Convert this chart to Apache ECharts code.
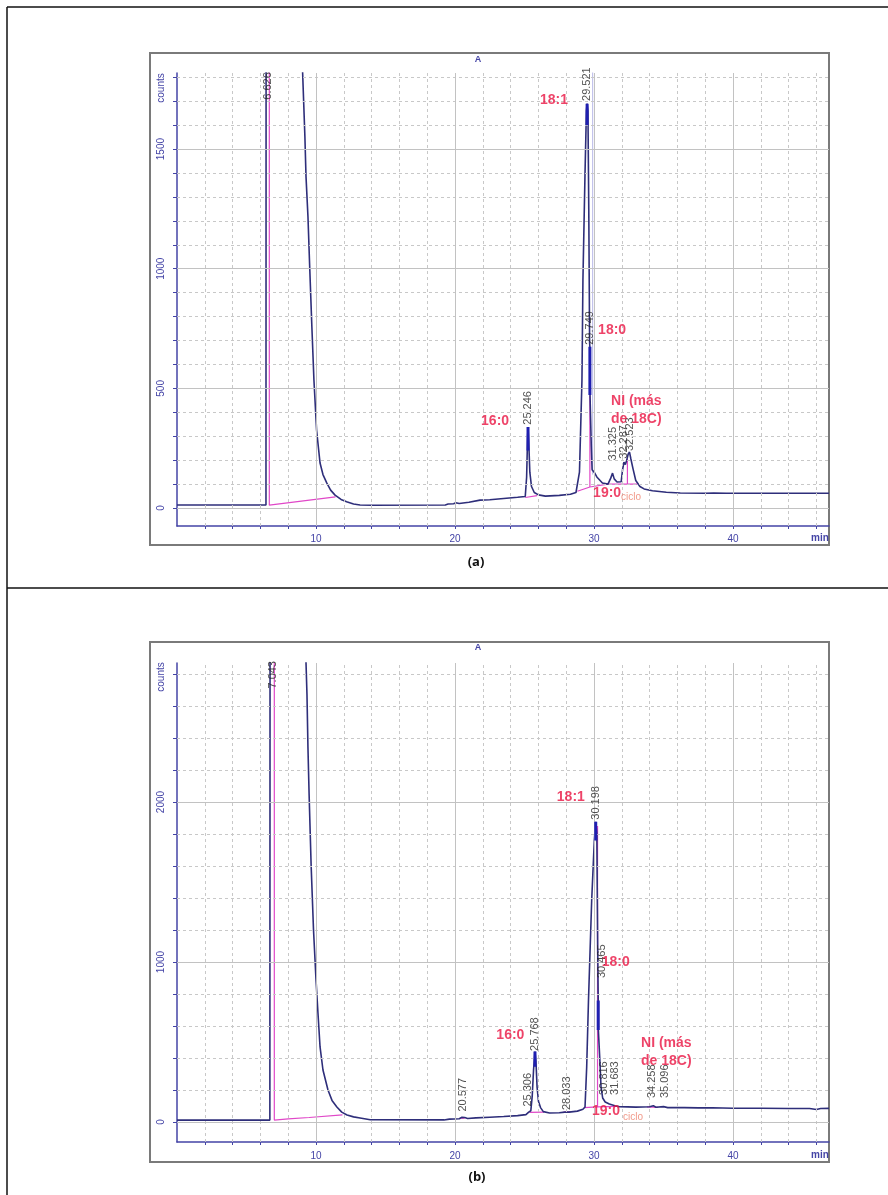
<!DOCTYPE html>
<html>
<head>
<meta charset="utf-8">
<script src="https://cdn.jsdelivr.net/npm/echarts@6/dist/echarts.min.js"></script>
<style>
  html, body { margin: 0; padding: 0; background: #fff; }
  #chart { width: 888px; height: 1195px; }
</style>
</head>
<body>
<div id="chart"></div>
<script>
// Chromatogram (a): [time min, counts]
const chromA = [
  [0, 13], [6.40, 13], [6.44, 9000], [9.02, 9000], [9.03, 1830], [9.2, 1552], [9.28, 1385],
  [9.42, 1218], [9.55, 1000], [9.7, 760], [9.85, 535], [10.04, 326], [10.29, 188], [10.5, 140],
  [10.77, 105], [11.05, 75], [11.37, 54], [11.8, 36], [12.2, 26], [12.7, 17], [13.17, 13],
  [14, 12], [19.3, 13], [19.5, 17], [19.9, 18], [20.05, 22], [20.3, 19], [21, 24], [21.8, 33],
  [22.5, 35], [23.5, 40], [24.5, 45], [25.05, 48], [25.15, 130], [25.22, 300], [25.25, 339],
  [25.3, 280], [25.38, 150], [25.5, 90], [25.7, 65], [26, 55], [26.5, 50], [27.5, 53],
  [28.3, 58], [28.7, 65], [28.8, 70], [28.95, 150], [29.0, 255], [29.13, 535], [29.2, 954],
  [29.35, 1400], [29.45, 1660], [29.5, 1690], [29.56, 1660], [29.62, 1250], [29.68, 690],
  [29.7, 674], [29.71, 472], [29.8, 260], [29.86, 160], [30.05, 146], [30.2, 130], [30.6, 105],
  [31.0, 100], [31.2, 125], [31.33, 146], [31.45, 122], [31.65, 109], [31.95, 110], [32.05, 160],
  [32.15, 192], [32.25, 182], [32.35, 200], [32.45, 225], [32.55, 234], [32.65, 205], [32.8, 165],
  [33.0, 115], [33.3, 90], [33.6, 80], [34.2, 72], [35.2, 66], [36.2, 63], [38.0, 62],
  [38.6, 63], [39.5, 62], [46.9, 62]
];

// Chromatogram (b)
const chromB = [
  [0, 12], [6.68, 12], [6.72, 9000], [9.24, 9000], [9.28, 2870], [9.35, 2670], [9.42, 2340],
  [9.5, 2056], [9.65, 1600], [9.82, 1200], [10.0, 888], [10.14, 681], [10.29, 469], [10.5, 325],
  [10.86, 200], [11.15, 135], [11.5, 94], [11.85, 62], [12.23, 44], [12.7, 32], [13.17, 25],
  [13.9, 14], [19.2, 13], [19.6, 18], [20.3, 20], [20.5, 30], [20.58, 40], [20.7, 28], [20.9, 22],
  [21.5, 26], [22.5, 30], [23.5, 34], [24.5, 40], [25.1, 46], [25.3, 62], [25.45, 70],
  [25.55, 160], [25.65, 330], [25.75, 440], [25.82, 380], [25.9, 220], [26.0, 130], [26.15, 90],
  [26.35, 65], [26.8, 56], [27.5, 58], [27.9, 62], [28.03, 72], [28.2, 62], [28.8, 68],
  [29.2, 80], [29.35, 94], [29.47, 344], [29.6, 762], [29.83, 1388], [30.02, 1762],
  [30.12, 1877], [30.2, 1800], [30.26, 1100], [30.3, 760], [30.31, 575], [30.42, 380],
  [30.5, 220], [30.62, 150], [30.8, 125], [31.1, 112], [31.5, 102], [31.8, 96], [33.0, 93],
  [34.0, 95], [34.26, 102], [34.45, 92], [35.0, 96], [35.1, 100], [35.3, 90], [36.5, 90],
  [37.5, 88], [38.5, 89], [40, 86], [42, 86], [44, 84], [45.5, 84], [46.0, 78], [46.3, 84],
  [46.9, 85]
];

// integration baselines / drop lines (pink)
const pinkA = [
  [[6.64, 9000], [6.64, 12], [11.4, 47]],
  [[25.05, 44], [25.9, 52]],
  [[28.8, 70], [29.7, 88], [31.0, 100], [33.1, 100]],
  [[29.7, 88], [29.7, 470]],
  [[32.4, 100], [32.4, 205]]
];
const markerA = [[29.9, 9000], [29.9, 140]];
const pinkB = [
  [[7.0, 9000], [7.0, 12], [8.0, 20], [9.5, 28], [11.9, 44]],
  [[20.45, 22], [20.7, 24]],
  [[25.35, 60], [26.4, 62]],
  [[27.8, 62], [28.3, 64]],
  [[29.3, 90], [30.25, 95], [30.25, 1850]],
  [[30.25, 95], [31.6, 98]],
  [[33.8, 95], [34.6, 92]]
];

// thick apex segments
const apexA = [
  [[29.5, 1690], [29.5, 1600]],
  [[29.7, 674], [29.7, 472]],
  [[25.25, 339], [25.25, 240]]
];
const apexB = [
  [[30.12, 1877], [30.12, 1760]],
  [[30.3, 760], [30.3, 575]],
  [[25.75, 440], [25.75, 345]]
];

// retention time labels [time, counts, text]
const rtA = [
  [6.55, 1700, '6.626'], [25.25, 342, '25.246'], [29.52, 1695, '29.521'], [29.72, 676, '29.749'],
  [31.33, 192, '31.325'], [32.15, 200, '32.287'], [32.57, 232, '32.523']
];
const rtB = [
  [6.9, 2700, '7.043'], [20.58, 56, '20.577'], [25.25, 87, '25.306'], [25.77, 435, '25.768'],
  [28.06, 65, '28.033'], [30.15, 1880, '30.198'], [30.55, 890, '30.465'], [30.7, 160, '30.816'],
  [31.5, 160, '31.683'], [34.2, 140, '34.258'], [35.1, 140, '35.096']
];

// compound annotations [time, counts, text]
const namesA = [[27.12, 1705, '18:1'], [31.3, 744, '18:0'], [22.88, 364, '16:0'], [30.94, 63, '19:0']];
const noteA = [31.22, 410, 'NI (más\nde 18C)'];
const cicloA = [32.66, 44, 'ciclo'];
const namesB = [[28.33, 2030, '18:1'], [31.56, 1000, '18:0'], [23.98, 544, '16:0'], [30.86, 69, '19:0']];
const noteB = [33.38, 437, 'NI (más\nde 18C)'];
const cicloB = [32.8, 31, 'ciclo'];

// axis ticks and grid
const xMajor = [10, 20, 30, 40];
const xMinor = [2, 4, 6, 8, 12, 14, 16, 18, 22, 24, 26, 28, 32, 34, 36, 38, 42, 44, 46];
const yMajorA = [0, 500, 1000, 1500];
const yMinorA = [100, 200, 300, 400, 600, 700, 800, 900, 1100, 1200, 1300, 1400, 1600, 1700, 1800];
const yMajorB = [0, 1000, 2000];
const yMinorB = [200, 400, 600, 800, 1200, 1400, 1600, 1800, 2200, 2400, 2600, 2800];

const AXIS = '#4444a6';
const CURVE = '#2e2e7a';
const PINK = '#e048c8';
const RED = '#ea1442';
const FONT = 'Liberation Sans';

function gridLines(i, yMaj, yMin) {
  const solid = { color: '#c2c2c2', width: 1, type: 'solid' };
  const dash = { color: '#c8c8c8', width: 1, type: [3, 3] };
  return {
    type: 'line', xAxisIndex: i, yAxisIndex: i, data: [], silent: true, z: 1,
    markLine: {
      symbol: ['none', 'none'], silent: true, animation: false, label: { show: false },
      emphasis: { disabled: true },
      data: [].concat(
        xMinor.map(v => ({ xAxis: v, lineStyle: dash })),
        yMin.map(v => ({ yAxis: v, lineStyle: dash })),
        xMajor.map(v => ({ xAxis: v, lineStyle: solid })),
        yMaj.map(v => ({ yAxis: v, lineStyle: solid }))
      )
    }
  };
}

function lineSeries(i, data, color, width, z) {
  return {
    type: 'line', xAxisIndex: i, yAxisIndex: i, data: data, symbol: 'none', silent: true,
    clip: true, z: z, lineStyle: { color: color, width: width }
  };
}

function rtSeries(i, data) {
  return {
    type: 'scatter', xAxisIndex: i, yAxisIndex: i, data: data, symbolSize: 1, silent: true, z: 6,
    clip: false, itemStyle: { color: 'rgba(0,0,0,0)' },
    label: {
      show: true, formatter: p => p.data[2], position: 'top', distance: 1, rotate: 90,
      align: 'left', verticalAlign: 'middle', fontSize: 11, color: '#262626', fontFamily: FONT
    }
  };
}

function nameSeries(i, names, note, ciclo) {
  const data = names.map(d => ({ value: d }));
  data.push({ value: note, label: { align: 'left', lineHeight: 18 } });
  data.push({ value: ciclo, label: { fontSize: 10, fontWeight: 'normal', color: '#ee7f6c' } });
  return {
    type: 'scatter', xAxisIndex: i, yAxisIndex: i, data: data, symbolSize: 1, silent: true, z: 7,
    clip: false, itemStyle: { color: 'rgba(0,0,0,0)' },
    label: {
      show: true, formatter: p => p.data.value ? p.data.value[2] : p.data[2], position: 'inside',
      fontSize: 14, fontWeight: 'bold', color: RED, fontFamily: FONT
    }
  };
}

function xAxisCfg(i, margin) {
  return {
    type: 'value', gridIndex: i, min: 0, max: 46.9,
    axisLine: { show: true, onZero: false, lineStyle: { color: AXIS, width: 1.5 } },
    axisTick: { show: true, customValues: xMajor.concat(xMinor), length: 3, lineStyle: { color: AXIS } },
    axisLabel: { customValues: xMajor, formatter: v => String(v), margin: margin, color: AXIS, fontSize: 10, fontFamily: FONT },
    splitLine: { show: false }
  };
}

function yAxisCfg(i, min, max, yMaj, yMin) {
  return {
    type: 'value', gridIndex: i, min: min, max: max,
    axisLine: { show: true, onZero: false, lineStyle: { color: AXIS, width: 1.5 } },
    axisTick: { show: true, customValues: yMaj.concat(yMin), length: 4, lineStyle: { color: AXIS } },
    axisLabel: { customValues: yMaj, formatter: v => String(v), rotate: 90, margin: 11, color: AXIS, fontSize: 10, fontFamily: FONT },
    splitLine: { show: false }
  };
}

function txt(x, y, text, style, rot) {
  return {
    type: 'text', x: x, y: y, rotation: rot || 0, silent: true, z: 10,
    style: Object.assign({ text: text, align: 'center', verticalAlign: 'middle', fontFamily: FONT }, style)
  };
}

const series = [
  gridLines(0, yMajorA, yMinorA),
  gridLines(1, yMajorB, yMinorB),
  lineSeries(0, markerA, '#b8b8e8', 1, 2)
];
pinkA.forEach(s => series.push(lineSeries(0, s, PINK, 1.2, 3)));
pinkB.forEach(s => series.push(lineSeries(1, s, PINK, 1.2, 3)));
series.push(lineSeries(0, chromA, CURVE, 1.6, 4));
series.push(lineSeries(1, chromB, CURVE, 1.6, 4));
apexA.forEach(s => series.push(lineSeries(0, s, '#1f1fb0', 3, 5)));
apexB.forEach(s => series.push(lineSeries(1, s, '#1f1fb0', 3, 5)));
series.push(rtSeries(0, rtA));
series.push(rtSeries(1, rtB));
series.push(nameSeries(0, namesA, noteA, cicloA));
series.push(nameSeries(1, namesB, noteB, cicloB));

const chart = echarts.init(document.getElementById('chart'), null, { renderer: 'canvas' });
chart.setOption({
  animation: false,
  backgroundColor: '#fff',
  grid: [
    { left: 177, top: 73, width: 652, height: 453 },
    { left: 177, top: 663, width: 652, height: 479 }
  ],
  xAxis: [xAxisCfg(0, 8), xAxisCfg(1, 9)],
  yAxis: [yAxisCfg(0, -75, 1818, yMajorA, yMinorA), yAxisCfg(1, -125, 2869, yMajorB, yMinorB)],
  series: series,
  graphic: [
    { type: 'line', shape: { x1: 7, y1: 7, x2: 888, y2: 7 }, style: { stroke: '#111', lineWidth: 1.5 } },
    { type: 'line', shape: { x1: 7, y1: 7, x2: 7, y2: 1195 }, style: { stroke: '#111', lineWidth: 1.5 } },
    { type: 'line', shape: { x1: 7, y1: 588, x2: 888, y2: 588 }, style: { stroke: '#111', lineWidth: 1.5 } },
    { type: 'rect', shape: { x: 150, y: 53, width: 679, height: 492 }, style: { fill: 'none', stroke: '#7a7a7a', lineWidth: 2 } },
    { type: 'rect', shape: { x: 150, y: 642, width: 679, height: 520 }, style: { fill: 'none', stroke: '#7a7a7a', lineWidth: 2 } },
    txt(161, 88, 'counts', { fill: AXIS, fontSize: 10 }, Math.PI / 2),
    txt(161, 677, 'counts', { fill: AXIS, fontSize: 10 }, Math.PI / 2),
    txt(478, 60, 'A', { fill: AXIS, fontSize: 9, fontWeight: 'bold' }),
    txt(478, 648, 'A', { fill: AXIS, fontSize: 9, fontWeight: 'bold' }),
    txt(820, 538, 'min', { fill: AXIS, fontSize: 10, fontWeight: 'bold' }),
    txt(820, 1155, 'min', { fill: AXIS, fontSize: 10, fontWeight: 'bold' }),
    txt(476, 562, '(a)', { fill: '#111', fontSize: 13, fontWeight: 'bold', fontFamily: 'Open Sans' }),
    txt(477, 1177, '(b)', { fill: '#111', fontSize: 13, fontWeight: 'bold', fontFamily: 'Open Sans' })
  ]
});
</script>
</body>
</html>
